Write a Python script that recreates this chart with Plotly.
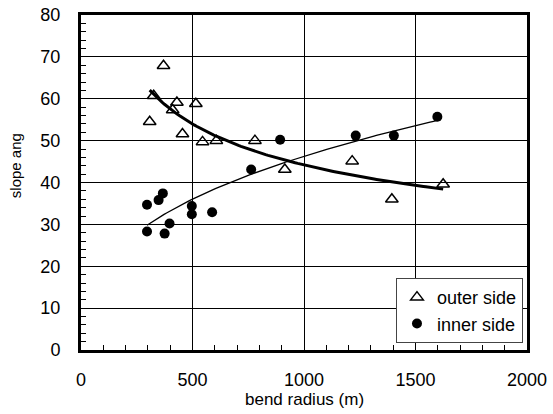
import numpy as np
import plotly.graph_objects as go

# data
outer_x = [308, 326, 370, 411, 430, 455, 515, 545, 607, 780, 914, 1216, 1394, 1624]
outer_y = [54.5, 60.7, 67.9, 57.3, 59.1, 51.6, 58.8, 49.7, 50.0, 50.0, 43.1, 45.1, 36.0, 39.6]
inner_x = [296, 348, 367, 296, 375, 397, 497, 497, 588, 763, 893, 1232, 1403, 1598]
inner_y = [34.7, 35.8, 37.4, 28.3, 27.8, 30.2, 34.4, 32.4, 32.9, 43.1, 50.2, 51.2, 51.2, 55.7]

x_ticks = [0, 500, 1000, 1500, 2000]
y_ticks = [0, 10, 20, 30, 40, 50, 60, 70, 80]

FONT = "Liberation Sans, Arial, sans-serif"


def power_fit(xs, ys):
    xs = np.asarray(xs, float)
    ys = np.asarray(ys, float)
    b, a = np.polyfit(np.log(xs), np.log(ys), 1)
    xx = np.linspace(xs.min(), xs.max(), 120)
    return xx, np.exp(a) * xx ** b


ox, oy = power_fit(outer_x, outer_y)
ix, iy = power_fit(inner_x, inner_y)

fig = go.Figure()
fig.add_trace(go.Scatter(x=ox, y=oy, mode="lines", line=dict(color="black", width=3),
                         showlegend=False, hoverinfo="skip"))
fig.add_trace(go.Scatter(x=ix, y=iy, mode="lines", line=dict(color="black", width=1.3),
                         showlegend=False, hoverinfo="skip"))
fig.add_trace(go.Scatter(x=outer_x, y=outer_y, mode="markers", name="outer side",
                         marker=dict(symbol="triangle-up-open", size=11, color="black",
                                     line=dict(width=1.5, color="black"))))
fig.add_trace(go.Scatter(x=inner_x, y=inner_y, mode="markers", name="inner side",
                         marker=dict(symbol="circle", size=10, color="black")))

fig.update_layout(
    width=553, height=414,
    margin=dict(l=81, r=26, t=15, b=64, autoexpand=False),
    paper_bgcolor="white", plot_bgcolor="white",
    font=dict(family=FONT, color="black", size=18),
    legend=dict(x=0.991, y=0.021, xanchor="right", yanchor="bottom",
                bgcolor="white", bordercolor="#444", borderwidth=1,
                font=dict(size=18, family=FONT), itemwidth=30,
                tracegroupgap=0),
    annotations=[
        dict(text="bend radius (m)", x=0.5, y=-0.148, xref="paper", yref="paper",
             xanchor="center", yanchor="middle", showarrow=False,
             font=dict(size=17, family=FONT)),
        dict(text="slope ang", x=-0.147, y=0.55, xref="paper", yref="paper",
             xanchor="center", yanchor="middle", showarrow=False, textangle=-90,
             font=dict(size=15, family=FONT)),
    ],
)

fig.update_xaxes(
    range=[0, 2000], tickvals=x_ticks, ticktext=[str(v) for v in x_ticks],
    showgrid=True, gridcolor="black", gridwidth=1, automargin=False,
    showline=True, linecolor="black", linewidth=3, mirror=True,
    ticks="inside", ticklen=5, tickcolor="black", zeroline=False,
    minor=dict(dtick=100, ticks="inside", ticklen=5, tickcolor="black", showgrid=False),
    ticklabelstandoff=11, tickfont=dict(size=18),
)
fig.update_yaxes(
    range=[0, 80], tickvals=y_ticks, ticktext=[str(v) for v in y_ticks],
    showgrid=True, gridcolor="black", gridwidth=1, automargin=False,
    showline=True, linecolor="black", linewidth=3, mirror=True,
    ticks="inside", ticklen=5, tickcolor="black", zeroline=False,
    minor=dict(dtick=2, ticks="inside", ticklen=5, tickcolor="black", showgrid=False),
    ticklabelstandoff=14, tickfont=dict(size=18),
)

fig.write_html("out.html")
